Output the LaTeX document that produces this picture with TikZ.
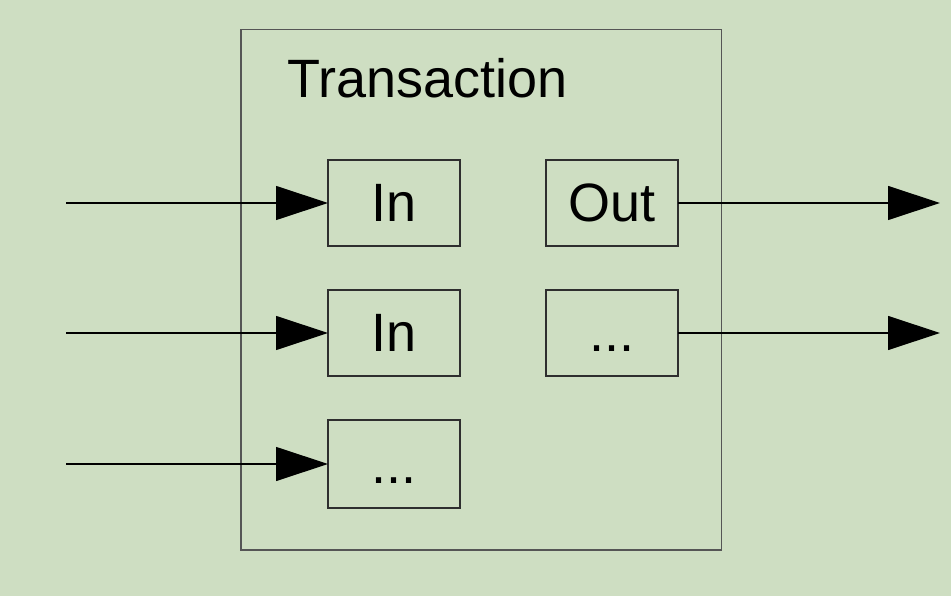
\documentclass[tikz,border=0pt]{standalone}
\usepackage{fontspec}
\setmainfont{Liberation Sans}
\usetikzlibrary{arrows.meta}
\definecolor{bg}{HTML}{CEDEC2}
\definecolor{frameline}{HTML}{555555}
\definecolor{boxline}{HTML}{2E2E2E}
\begin{document}
\begin{tikzpicture}[x=1pt,y=-1pt,
  part/.style={draw=boxline,line width=1.5pt,minimum width=132pt,minimum height=86pt,
    inner sep=0pt,outer sep=0pt},
  lbl/.style={anchor=base,font=\fontsize{54}{62}\selectfont,text=black,inner sep=0pt},
  flow/.style={draw=black,line width=1.2pt,
    -{Triangle[length=52pt,width=34pt]}}]
  % canvas
  \fill[bg] (0,0) rectangle (951,596);
  \useasboundingbox (0,0) rectangle (951,596);
  % transaction frame
  \draw[frameline,line width=1.4pt] (241,29.5) rectangle (721.5,550);
  \node[lbl,anchor=base west] (title) at (287,98) {Transaction};
  % inputs and outputs
  \node[part] (in1) at (394,203) {};
  \node[part] (in2) at (394,333) {};
  \node[part,minimum height=88pt] (in3) at (394,464) {};
  \node[part] (out1) at (612,203) {};
  \node[part] (out2) at (612,333) {};
  \node[lbl] at ([yshift=-19pt]in1.center) {In};
  \node[lbl] at ([yshift=-19pt]in2.center) {In};
  \node[lbl] at ([yshift=-19pt]in3.center) {...};
  \node[lbl] at ([yshift=-19pt]out1.center) {Out};
  \node[lbl] at ([yshift=-19pt]out2.center) {...};
  % incoming connectors
  \coordinate (src1) at (66,203);
  \coordinate (src2) at (66,333);
  \coordinate (src3) at (66,464);
  \draw[flow] (src1) -- (in1.west);
  \draw[flow] (src2) -- (in2.west);
  \draw[flow] (src3) -- (in3.west);
  % outgoing connectors
  \coordinate (dst1) at (940,203);
  \coordinate (dst2) at (940,333);
  \draw[flow] (out1.east) -- (dst1);
  \draw[flow] (out2.east) -- (dst2);
\end{tikzpicture}
\end{document}
